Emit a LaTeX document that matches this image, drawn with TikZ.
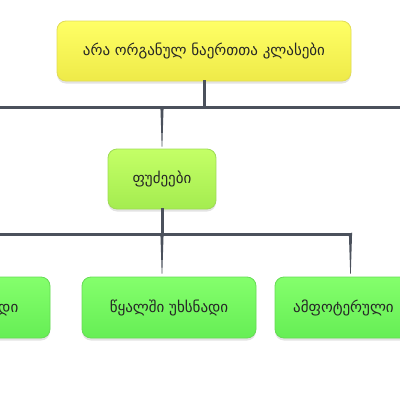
\documentclass[tikz,border=0pt]{standalone}
\usepackage{fontspec}
\newfontfamily\geofont{DejaVu Sans}
\usetikzlibrary{calc, shadows}
\usetikzlibrary{positioning}
\definecolor{busgray}{HTML}{4B515C}
\definecolor{yelTop}{HTML}{FFFF66}
\definecolor{yelBot}{HTML}{EEEA48}
\definecolor{yelLine}{HTML}{E2DC55}
\definecolor{limeTop}{HTML}{C4FF66}
\definecolor{limeBot}{HTML}{A4EC50}
\definecolor{limeLine}{HTML}{9EDC55}
\definecolor{grnTop}{HTML}{84FF6C}
\definecolor{grnBot}{HTML}{66EE55}
\definecolor{grnLine}{HTML}{66DC55}

\begin{document}
\begin{tikzpicture}[x=1pt, y=-1pt, every node/.style={font=\geofont\fontsize{15}{18}\selectfont, text=black!85},
	box/.style={rounded corners=9pt, line width=0.8pt, minimum height=60pt, inner sep=0pt,
		drop shadow={opacity=0.22, shadow xshift=0pt, shadow yshift=-2.5pt}},
	bus/.style={draw=busgray, line width=3pt, line join=miter, line cap=rect},
	taper/.style={fill=busgray}]
		\useasboundingbox (0,0) rectangle (400,400);
		\begin{scope}
			\clip (0,0) rectangle (400,400);
			% boxes
			\node[box, draw=yelLine, top color=yelTop, bottom color=yelBot, minimum width=294pt] (top) at (204,51) {არა ორგანულ ნაერთთა კლასები\hspace{14pt}};
			\node[box, draw=limeLine, top color=limeTop, bottom color=limeBot, minimum width=108pt] (fud) at (162,179) {ფუძეები\hspace{4pt}};
			\node[box, draw=grnLine, top color=grnTop, bottom color=grnBot, minimum width=174pt, minimum height=61pt] (sol) at (-37,307.5) {წყალში ხსნადი\hspace{-8pt}};
			\node[box, draw=grnLine, top color=grnTop, bottom color=grnBot, minimum width=174pt, minimum height=61pt] (insol) at (169,307.5) {წყალში უხსნადი\hspace{8pt}};
			\node[box, draw=grnLine, top color=grnTop, bottom color=grnBot, minimum width=174pt, minimum height=61pt] (amph) at (362,307.5) {};
			\node[anchor=west, inner xsep=0pt] (amphtxt) at (293,307.5) {ამფოტერული};
			% connectors
			\coordinate (b1l) at (-5,107); \coordinate (b1r) at (405,107);
			\coordinate (b2l) at (-5,234); \coordinate (b2r) at (350.5,234);
			\draw[bus] (top.south) -- (top.south |- b1l);
			\draw[bus] (b1l) -- (b1r);
			\fill[taper] ($(fud.north |- b1l)+(-1.6,0)$) -- ($(fud.north |- b1l)+(1.6,0)$) -- ($(fud.north)+(0.3,-2)$) -- ($(fud.north)+(-0.3,-2)$) -- cycle;
			\draw[bus] (fud.south) -- (fud.south |- b2l);
			\draw[bus] (b2l) -- (b2r);
			\fill[taper] ($(fud.south |- b2l)+(-1.6,0)$) -- ($(fud.south |- b2l)+(1.6,0)$) -- ($(insol.north -| fud.south)+(0.3,-3)$) -- ($(insol.north -| fud.south)+(-0.3,-3)$) -- cycle;
			\fill[taper] ($(b2r)+(-1.6,0)$) -- ($(b2r)+(1.6,-1.5)$) -- ($(amph.north -| b2r)+(0.3,-3)$) -- ($(amph.north -| b2r)+(-0.3,-3)$) -- cycle;
		\end{scope}
	\end{tikzpicture}
\end{document}
